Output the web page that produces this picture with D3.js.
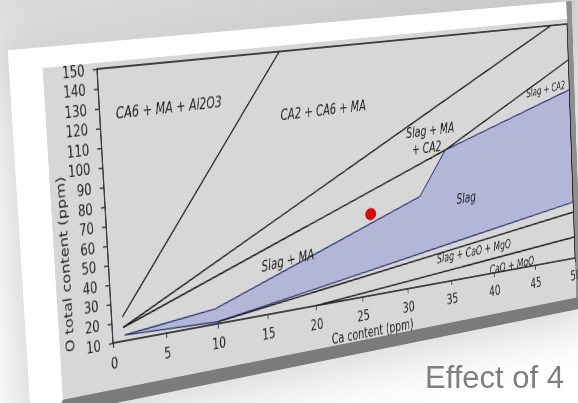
<!DOCTYPE html>
<html>
<head>
<meta charset="utf-8">
<script src="https://cdn.jsdelivr.net/npm/d3@7"></script>
<style>
  html, body { margin: 0; padding: 0; }
  body { width: 578px; height: 403px; overflow: hidden; position: relative;
         background: linear-gradient(to bottom, #e0e0e0 0px, #ececec 35px, #f8f8f8 90px, #fff 140px); }
  #card { position: absolute; left: 0; top: 0; transform-origin: 0 0; background: #fff;
          box-shadow: 0 0 50px 20px rgba(0,0,0,0.14); }
  #page { position: absolute; left: 0; top: 0; }
</style>
</head>
<body>
<div id="card"></div>
<svg id="page" width="578" height="403"></svg>
<script>
// axis ticks
var xTicks = [0, 5, 10, 15, 20, 25, 30, 35, 40, 45, 50];
var yTicks = [10, 20, 30, 40, 50, 60, 70, 80, 90, 100, 110, 120, 130, 140, 150];

// phase boundaries, [Ca ppm, O ppm]
var lineAl2O3 = [[1, 22.5], [17.5, 150]];
var lineCA6 = [[1, 17], [48, 150]];
var lineMA = [[1, 17], [34.9, 85.3]];
var lineCA2 = [[34.9, 85.3], [50, 128.7]];
var lineSlagCaO = [[10, 11], [50, 37.8]];
var lineCaOMgO = [[20, 10], [50, 22.7]];
var slagRegion = [[1.1, 13], [9.8, 18.1], [31.8, 61], [34.9, 85.3], [50, 111], [50, 43.8], [10, 11]];
var samplePoint = [26.3, 55.4];

// region names and where they sit, [Ca ppm, O ppm]
var regionNames = ["CA6 + MA + Al2O3", "CA2 + CA6 + MA", "Slag + MA", "+ CA2", "Slag + CA2",
                   "Slag", "Slag + MA", "Slag + CaO + MgO", "CaO + MgO"];
var regionCa = [6.5, 21.8, 33.3, 32.8, 47.1, 37.1, 17.35, 37.8, 42.2];
var regionO = [127, 116, 97.8, 87.8, 113.1, 56.1, 37.5, 24.8, 12.7];

// flat layout of the picture before it is tilted
var PW = 760, PH = 274, PX0 = 117, PY0 = 26;
var grayLeft = 44, grayTop = 20, bandTop = 347, bandBot = 361, sideW = 10;
var cardW = PX0 + PW + sideW, cardH = bandBot;

// where the plot corners land on the page
var plotQuad = [[97, 69], [567, 24], [575, 258], [113, 343]];

function solveHomography(src, dst) {
    var A = [], i, r, k;
    for (i = 0; i < 4; i++) {
        var x = src[i][0], y = src[i][1], u = dst[i][0], v = dst[i][1];
        A.push([x, y, 1, 0, 0, 0, -u * x, -u * y, u]);
        A.push([0, 0, 0, x, y, 1, -v * x, -v * y, v]);
    }
    for (var c = 0; c < 8; c++) {
        var p = c;
        for (r = c + 1; r < 8; r++) if (Math.abs(A[r][c]) > Math.abs(A[p][c])) p = r;
        var tmp = A[c]; A[c] = A[p]; A[p] = tmp;
        for (r = 0; r < 8; r++) {
            if (r === c) continue;
            var f = A[r][c] / A[c][c];
            for (k = c; k < 9; k++) A[r][k] -= f * A[c][k];
        }
    }
    return A.map(function (row, j) { return row[8] / row[j]; });
}

var flatQuad = [[PX0, PY0], [PX0 + PW, PY0], [PX0 + PW, PY0 + PH], [PX0, PY0 + PH]];
var h = solveHomography(flatQuad, plotQuad);
var m3d = [h[0], h[3], 0, h[6], h[1], h[4], 0, h[7], 0, 0, 1, 0, h[2], h[5], 0, 1];

var card = d3.select("#card")
    .style("width", cardW + "px")
    .style("height", cardH + "px")
    .style("transform", "matrix3d(" + m3d.join(",") + ")");

var svg = card.append("svg")
    .attr("width", cardW)
    .attr("height", cardH)
    .style("display", "block");

// picture background, depth band and side
svg.append("rect")
    .attr("x", grayLeft).attr("y", grayTop)
    .attr("width", PX0 + PW - grayLeft).attr("height", bandTop - grayTop)
    .attr("fill", "#d7d7d7");
svg.append("path")
    .attr("d", "M" + grayLeft + "," + bandTop + "L" + cardW + "," + bandTop +
               "L" + cardW + "," + bandBot + "L" + (grayLeft - 10) + "," + bandBot + "Z")
    .attr("fill", "#7b7b7b");
svg.append("rect")
    .attr("x", PX0 + PW).attr("y", 0)
    .attr("width", sideW).attr("height", bandTop)
    .attr("fill", "#8e8e8e");

var x = d3.scaleLinear().domain([0, 50]).range([0, PW]);
var y = d3.scaleLinear().domain([10, 150]).range([PH, 0]);

var g = svg.append("g").attr("transform", "translate(" + PX0 + "," + PY0 + ")");

g.append("clipPath").attr("id", "clip")
    .append("rect").attr("width", PW).attr("height", PH);

var plot = g.append("g").attr("clip-path", "url(#clip)");

var line = d3.line()
    .x(function (d) { return x(d[0]); })
    .y(function (d) { return y(d[1]); });

plot.append("path")
    .datum(slagRegion)
    .attr("d", function (d) { return line(d) + "Z"; })
    .attr("fill", "#b3b6d7")
    .attr("stroke", "#2c336e")
    .attr("stroke-width", 1.4);

plot.selectAll("path.bound")
    .data([lineAl2O3, lineCA6, lineMA, lineCA2, lineSlagCaO, lineCaOMgO])
    .enter().append("path")
    .attr("class", "bound")
    .attr("d", line)
    .attr("fill", "none")
    .attr("stroke", "#1b1b1b")
    .attr("stroke-width", 1.6);

// label look: size, turn
var labelSize = [16, 16, 16, 16, 13, 16, 16, 14, 14];
var labelTurn = [0, 0, 0, 0, -4, 0, -3, -1.5, -1.5];

plot.selectAll("text.region")
    .data(regionNames)
    .enter().append("text")
    .attr("class", "region")
    .attr("transform", function (d, i) {
        return "translate(" + x(regionCa[i]) + "," + y(regionO[i]) + ") rotate(" + labelTurn[i] + ")";
    })
    .attr("text-anchor", "middle")
    .attr("dy", "0.35em")
    .attr("font-family", "DejaVu Sans, sans-serif")
    .attr("font-style", "italic")
    .attr("font-size", function (d, i) { return labelSize[i]; })
    .attr("fill", "#222")
    .text(function (d) { return d; });

plot.append("ellipse")
    .attr("cx", x(samplePoint[0]))
    .attr("cy", y(samplePoint[1]))
    .attr("rx", 9)
    .attr("ry", 6.6)
    .attr("fill", "#d10a0a");

g.append("rect")
    .attr("width", PW).attr("height", PH)
    .attr("fill", "none")
    .attr("stroke", "#1b1b1b")
    .attr("stroke-width", 1.6);

var yAxis = g.append("g")
    .call(d3.axisLeft(y).tickValues(yTicks).tickSize(6).tickPadding(11));
var xAxis = g.append("g")
    .attr("transform", "translate(0," + PH + ")")
    .call(d3.axisBottom(x).tickValues(xTicks).tickSize(5).tickPadding(10));

[yAxis, xAxis].forEach(function (ax) {
    ax.select(".domain").remove();
    ax.selectAll("line").attr("stroke", "#333").attr("stroke-width", 1.4);
    ax.selectAll("text")
        .attr("font-family", "DejaVu Sans, sans-serif")
        .attr("font-size", 16)
        .attr("fill", "#262626");
});

g.append("text")
    .attr("x", 0.52 * PW)
    .attr("y", PH + 40)
    .attr("dy", "0.35em")
    .attr("text-anchor", "middle")
    .attr("font-family", "DejaVu Sans, sans-serif")
    .attr("font-size", 15.5)
    .attr("fill", "#262626")
    .text("Ca content (ppm)");

g.append("text")
    .attr("transform", "translate(" + (58 - PX0) + "," + (0.687 * PH) + ") rotate(-90)")
    .attr("dy", "0.35em")
    .attr("text-anchor", "middle")
    .attr("font-family", "DejaVu Sans, sans-serif")
    .attr("font-size", 16)
    .attr("fill", "#262626")
    .text("O total content (ppm)");

// slide text under the picture
d3.select("#page").append("text")
    .attr("x", 425)
    .attr("y", 388)
    .attr("font-family", "Liberation Sans, Arial, sans-serif")
    .attr("font-size", 31)
    .attr("fill", "#7f7f7f")
    .text("Effect of 4");
</script>
</body>
</html>
